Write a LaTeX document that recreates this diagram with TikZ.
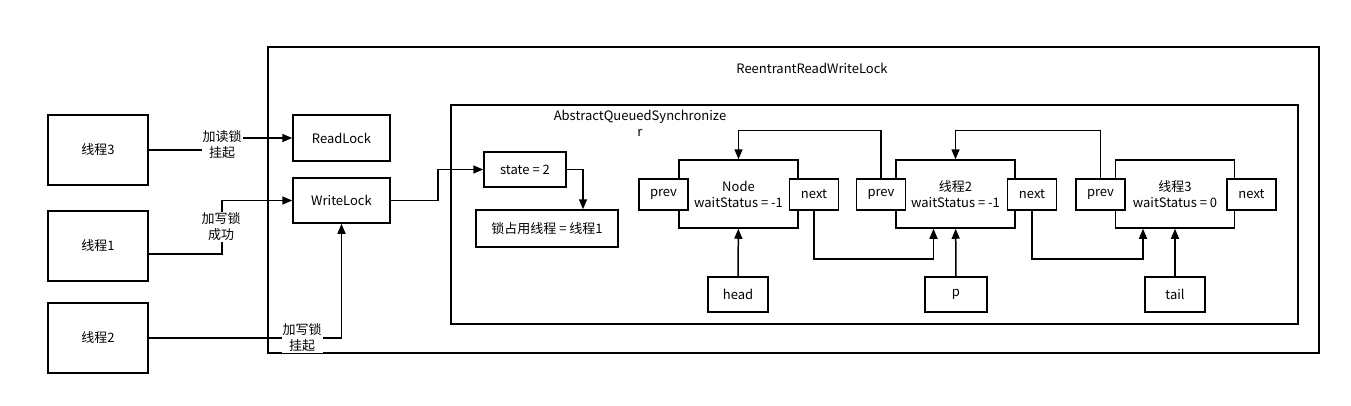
\documentclass[tikz,border=0pt]{standalone}
\usepackage{fontspec}
\setmainfont{Noto Sans CJK SC}
\usepackage{tikz}
\usetikzlibrary{positioning, arrows.meta}

\begin{document}
\begin{tikzpicture}[
            x=1pt, y=-1pt,
            font=\fontsize{13}{16}\selectfont,
            frame/.style={rectangle, draw, line width=1.5pt},
            block/.style={rectangle, draw, fill=white, line width=1.5pt, text centered, align=center},
            ptr/.style={block, minimum width=49pt, minimum height=31pt},
            qnode/.style={block, minimum width=119pt, minimum height=68pt},
            tag/.style={fill=white, inner sep=1pt, align=center},
            arrow/.style={-{Triangle[length=10pt,width=8pt]}, line width=1.5pt},
            line/.style={line width=1.5pt}
        ]
        \useasboundingbox (0,0) rectangle (1351,405);

        % Outer frames
        \node[frame, minimum width=1051pt, minimum height=306pt] (rrwl) at (793.5,200) {};
        \node (rrwltitle) at (812,68) {ReentrantReadWriteLock};
        \node[frame, minimum width=847pt, minimum height=219pt] (aqs) at (874.5,214.5) {};
        \node[align=center] (aqstitle) at (640,123) {AbstractQueuedSynchronize\\r};

        % Threads and locks
        \node[block, minimum width=100pt, minimum height=70pt] (t3) at (98,150) {线程3};
        \node[block, minimum width=100pt, minimum height=70pt] (t1) at (98,246) {线程1};
        \node[block, minimum width=100pt, minimum height=70pt] (t2) at (98,338) {线程2};
        \node[block, minimum width=97pt, minimum height=46pt] (readlock) at (341.5,138) {ReadLock};
        \node[block, minimum width=97pt, minimum height=45pt] (writelock) at (341.5,200.5) {WriteLock};

        % State of the synchronizer
        \node[block, minimum width=82pt, minimum height=35pt] (state) at (525,169.5) {state = 2};
        \node[block, minimum width=142pt, minimum height=37pt] (owner) at (547,228.5) {锁占用线程 = 线程1};

        % Wait queue
        \node[qnode] (n1) at (738.5,194) {Node\\waitStatus = -1};
        \node[qnode] (n2) at (955.5,194) {线程2\\waitStatus = -1};
        \node[qnode] (n3) at (1175,194) {线程3\\waitStatus = 0};
        \node[ptr] (prev1) at (663.5,194.5) {prev};
        \node[ptr] (next1) at (814,194.5) {next};
        \node[ptr] (prev2) at (881,194.5) {prev};
        \node[ptr] (next2) at (1032,194.5) {next};
        \node[ptr] (prev3) at (1100.5,194.5) {prev};
        \node[ptr] (next3) at (1251.5,194.5) {next};
        \node[block, minimum width=60pt, minimum height=35pt] (head) at (738,294.5) {head};
        \node[block, minimum width=62pt, minimum height=35pt] (p) at (956,294.5) {p};
        \node[block, minimum width=60pt, minimum height=35pt] (tail) at (1175,294.5) {tail};

        % Connectors
        \draw[arrow] (t3.east) -- ++(74,0) |- (readlock);
        \draw[arrow] ([yshift=-8pt]t1.east) -- ++(73,0) |- (writelock);
        \draw[arrow] (t2.east) -| (writelock);
        \draw[arrow] (writelock.east) -- ++(47,0) |- (state);
        \draw[arrow] (state.east) -| ([xshift=36pt]owner.north);
        \draw[arrow] (prev2.north) -- ++(0,-48) -| (n1.north);
        \draw[arrow] (prev3.north) -- ++(0,-48) -| (n2.north);
        \draw[arrow] (next1.south) -- ++(0,48) -| ([xshift=-22pt]n2.south);
        \draw[arrow] (next2.south) -- ++(0,48) -| ([xshift=-32pt]n3.south);
        \draw[arrow] (head) -- (n1);
        \draw[arrow] (p) -- (n2);
        \draw[arrow] (tail) -- (n3);

        % Edge labels
        \node[tag] (l3) at (222,145) {加读锁\\挂起};
        \node[tag] (l1) at (221,227) {加写锁\\成功};
        \node[tag] (l2) at (302,338) {加写锁\\挂起};
    \end{tikzpicture}
\end{document}
